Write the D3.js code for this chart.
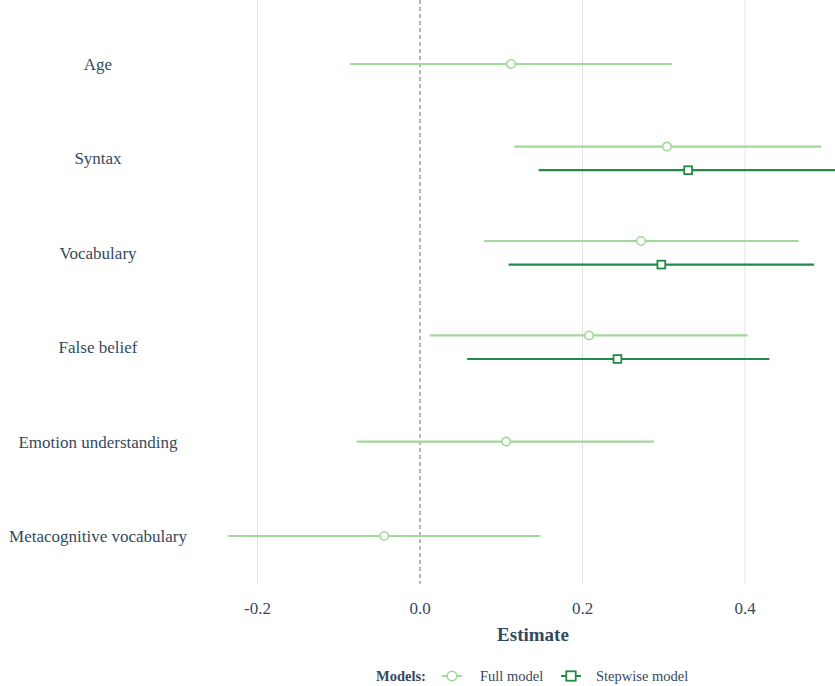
<!DOCTYPE html>
<html>
<head>
<meta charset="utf-8">
<script src="https://cdn.jsdelivr.net/npm/d3@7"></script>
<style>
  html, body { margin: 0; padding: 0; background: #fff; }
  svg { display: block; }
</style>
</head>
<body>
<svg id="chart" width="835" height="686"></svg>
<script>
// Predictors, top to bottom
const predictors = ["Age", "Syntax", "Vocabulary", "False belief", "Emotion understanding", "Metacognitive vocabulary"];

// Full model: estimate with lower / upper interval bounds
const fullEst  = [0.112, 0.304, 0.272, 0.208, 0.106, -0.044];
const fullLow  = [-0.086, 0.116, 0.079, 0.012, -0.078, -0.236];
const fullHigh = [0.310, 0.494, 0.466, 0.403, 0.288, 0.148];

// Stepwise model: only retained predictors
const stepTerms = ["Syntax", "Vocabulary", "False belief"];
const stepEst   = [0.330, 0.297, 0.243];
const stepLow   = [0.146, 0.109, 0.058];
const stepHigh  = [0.520, 0.485, 0.430];

const xTicks = [-0.2, 0.0, 0.2, 0.4];
const models = ["Full model", "Stepwise model"];
const modelColors = ["#a1d99b", "#238b45"];

const svg = d3.select("#chart");
const textColor = "#34495e";
const serif = "'Liberation Serif', 'Times New Roman', serif";

const x = d3.scaleLinear().domain([0, 0.2]).range([420, 582.5]);
const y = d3.scalePoint().domain(predictors).range([64, 536]);
const dodge = 11.8;

// rows
const rows = [];
predictors.forEach((p, i) => {
  const si = stepTerms.indexOf(p);
  const both = si >= 0;
  rows.push({ model: 0, term: p, est: fullEst[i], lo: fullLow[i], hi: fullHigh[i], yy: y(p) + (both ? -dodge : 0) });
  if (both) rows.push({ model: 1, term: p, est: stepEst[si], lo: stepLow[si], hi: stepHigh[si], yy: y(p) + dodge });
});

// vertical grid lines
const grid = svg.append("g");
xTicks.filter(t => t !== 0).forEach(t => {
  grid.append("line")
    .attr("x1", x(t)).attr("x2", x(t))
    .attr("y1", 0).attr("y2", 584)
    .attr("stroke", "#e3e3e3").attr("stroke-width", 1);
});

// zero reference line
svg.append("line")
  .attr("x1", x(0)).attr("x2", x(0))
  .attr("y1", 0).attr("y2", 584)
  .attr("stroke", "#7a7a7a").attr("stroke-width", 1.1)
  .attr("stroke-dasharray", "4,3");

// intervals
const plot = svg.append("g");
plot.selectAll("line.ci").data(rows).join("line")
  .attr("class", "ci")
  .attr("x1", d => x(d.lo)).attr("x2", d => x(d.hi))
  .attr("y1", d => d.yy).attr("y2", d => d.yy)
  .attr("stroke", d => modelColors[d.model])
  .attr("stroke-width", 2.2);

// point estimates
rows.forEach(d => {
  if (d.model === 0) {
    plot.append("circle")
      .attr("cx", x(d.est)).attr("cy", d.yy).attr("r", 4.2)
      .attr("fill", "#fff").attr("stroke", modelColors[0]).attr("stroke-width", 1.6);
  } else {
    plot.append("rect")
      .attr("x", x(d.est) - 3.9).attr("y", d.yy - 3.9)
      .attr("width", 7.8).attr("height", 7.8)
      .attr("fill", "#fff").attr("stroke", modelColors[1]).attr("stroke-width", 1.8);
  }
});

// y labels
svg.append("g").selectAll("text").data(predictors).join("text")
  .attr("x", 98).attr("y", d => y(d))
  .attr("dy", "0.35em")
  .attr("text-anchor", "middle")
  .attr("font-family", serif).attr("font-size", 17)
  .attr("fill", textColor)
  .text(d => d);

// x axis tick labels (plain hyphen for negatives)
svg.append("g").selectAll("text").data(xTicks).join("text")
  .attr("x", d => x(d)).attr("y", 614)
  .attr("text-anchor", "middle")
  .attr("font-family", serif).attr("font-size", 17)
  .attr("fill", textColor)
  .text(d => d.toFixed(1));

// axis title
svg.append("text")
  .attr("x", 533).attr("y", 641)
  .attr("text-anchor", "middle")
  .attr("font-family", serif).attr("font-size", 19).attr("font-weight", "bold")
  .attr("fill", textColor)
  .text("Estimate");

// legend
const lg = svg.append("g").attr("transform", "translate(0,676)");
lg.append("text").attr("x", 376).attr("y", 5)
  .attr("font-family", serif).attr("font-size", 14.5).attr("font-weight", "bold")
  .attr("fill", textColor).text("Models:");
const keyX = [452, 571];
const labX = [480, 596];
models.forEach((m, i) => {
  lg.append("line").attr("x1", keyX[i] - 10).attr("x2", keyX[i] + 10)
    .attr("y1", 0).attr("y2", 0)
    .attr("stroke", modelColors[i]).attr("stroke-width", 2);
  if (i === 0) {
    lg.append("circle").attr("cx", keyX[i]).attr("cy", 0).attr("r", 4.8)
      .attr("fill", "#fff").attr("stroke", modelColors[i]).attr("stroke-width", 1.6);
  } else {
    lg.append("rect").attr("x", keyX[i] - 4.7).attr("y", -4.7).attr("width", 9.4).attr("height", 9.4)
      .attr("fill", "#fff").attr("stroke", modelColors[i]).attr("stroke-width", 1.8);
  }
  lg.append("text").attr("x", labX[i]).attr("y", 5)
    .attr("font-family", serif).attr("font-size", 14.5)
    .attr("fill", textColor).text(m);
});
</script>
</body>
</html>
